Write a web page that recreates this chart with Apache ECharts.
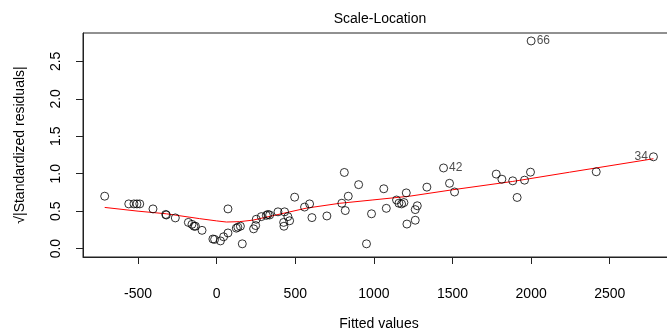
<!DOCTYPE html>
<html><head><meta charset="utf-8">
<script src="https://cdn.jsdelivr.net/npm/echarts@6/dist/echarts.min.js"></script>
<style>html,body{margin:0;padding:0;background:#fff;overflow:hidden}#c{width:680px;height:336px}</style>
</head><body><div id="c"></div>
<script>
var fitted = [-712,-559,-526,-507,-489,-405,-324,-320,-263,-180,-157,-144,-135,-93,-24,-13,24,44,72,72,125,135,151,163,235,248,252,284,316,326,337,390,426,428,432,453,464,496,559,591,606,701,796,812,818,837,903,953,985,1063,1079,1144,1159,1176,1191,1206,1210,1263,1276,1263,1337,1443,1481,1513,1778,1814,1883,1911,1958,1996,2000,2414,2778];
var sqrtStdRes = [0.70,0.597,0.597,0.597,0.597,0.53,0.456,0.449,0.41,0.35,0.324,0.299,0.299,0.244,0.128,0.123,0.103,0.158,0.209,0.53,0.273,0.286,0.299,0.064,0.264,0.308,0.392,0.427,0.444,0.456,0.449,0.491,0.35,0.299,0.491,0.427,0.372,0.687,0.555,0.597,0.414,0.436,0.606,1.017,0.508,0.70,0.854,0.064,0.465,0.799,0.538,0.649,0.606,0.597,0.615,0.744,0.328,0.521,0.572,0.379,0.821,1.077,0.872,0.756,0.995,0.927,0.905,0.683,0.914,1.021,2.773,1.026,1.226];
var pointIds = {61:'42', 70:'66', 72:'34'};
var smoothX = [-712,-500,-320,-108,0,62,146,230,358,570,782,994,1227,1502,1883,2244,2778];
var smoothY = [0.55,0.50,0.465,0.40,0.37,0.355,0.36,0.38,0.44,0.54,0.605,0.65,0.70,0.786,0.897,1.02,1.20];
var xTicks = [-500,0,500,1000,1500,2000,2500];
var yTicks = [0,0.5,1,1.5,2,2.5];

var FONT = 'Liberation Sans, Arial, sans-serif';
var pts = fitted.map(function(x,i){
  var d = {value:[x, sqrtStdRes[i]]};
  if (pointIds[i]) {
    d.label = {show:true, formatter: pointIds[i], position: (i===72?'left':'right'),
      distance: 1, fontSize: 12, color:'#222', fontFamily: FONT};
  }
  return d;
});
var line = smoothX.map(function(x,i){return [x, smoothY[i]];});

var chart = echarts.init(document.getElementById('c'), null, {renderer:'canvas'});
chart.setOption({
  animation:false,
  backgroundColor:'#fff',
  graphic:[{type:'text', x:380, y:19, style:{text:'Scale-Location', align:'center', verticalAlign:'middle', fontSize:14, fontFamily:FONT, fill:'#000'}}],
  grid:{left:83, top:33, width:592, height:233, show:true, borderColor:'#222', borderWidth:1, backgroundColor:'transparent'},
  xAxis:{type:'value', min:-850, max:2915, splitLine:{show:false},
    name:'Fitted values', nameLocation:'middle', nameGap:60,
    nameTextStyle:{fontSize:14, fontFamily:FONT, color:'#000'},
    axisLine:{show:true, onZero:false, lineStyle:{color:'#222'}},
    axisTick:{show:true, length:7, customValues:xTicks, lineStyle:{color:'#222'}},
    axisLabel:{customValues:xTicks, margin:30, fontSize:14, fontFamily:FONT, color:'#000',
      formatter:function(v){return String(v);}}},
  yAxis:{type:'value', min:-0.112, max:2.879, splitLine:{show:false},
    name:'\u221A|Standardized residuals|', nameLocation:'middle', nameGap:56, nameRotate:90,
    nameTextStyle:{fontSize:14, fontFamily:FONT, color:'#000'},
    axisLine:{show:true, onZero:false, lineStyle:{color:'#222'}},
    axisTick:{show:true, length:7, customValues:yTicks, lineStyle:{color:'#222'}},
    axisLabel:{customValues:yTicks, rotate:90, margin:20, fontSize:14, fontFamily:FONT, color:'#000',
      formatter:function(v){return v.toFixed(1);}}},
  series:[
    {type:'line', data:line, symbol:'none', smooth:false, lineStyle:{color:'#ff0000', width:1}, z:3, silent:true},
    {type:'scatter', data:pts, symbol:'circle', symbolSize:8,
      itemStyle:{color:'transparent', borderColor:'#000', borderWidth:1}, z:4}
  ]
});
</script></body></html>
